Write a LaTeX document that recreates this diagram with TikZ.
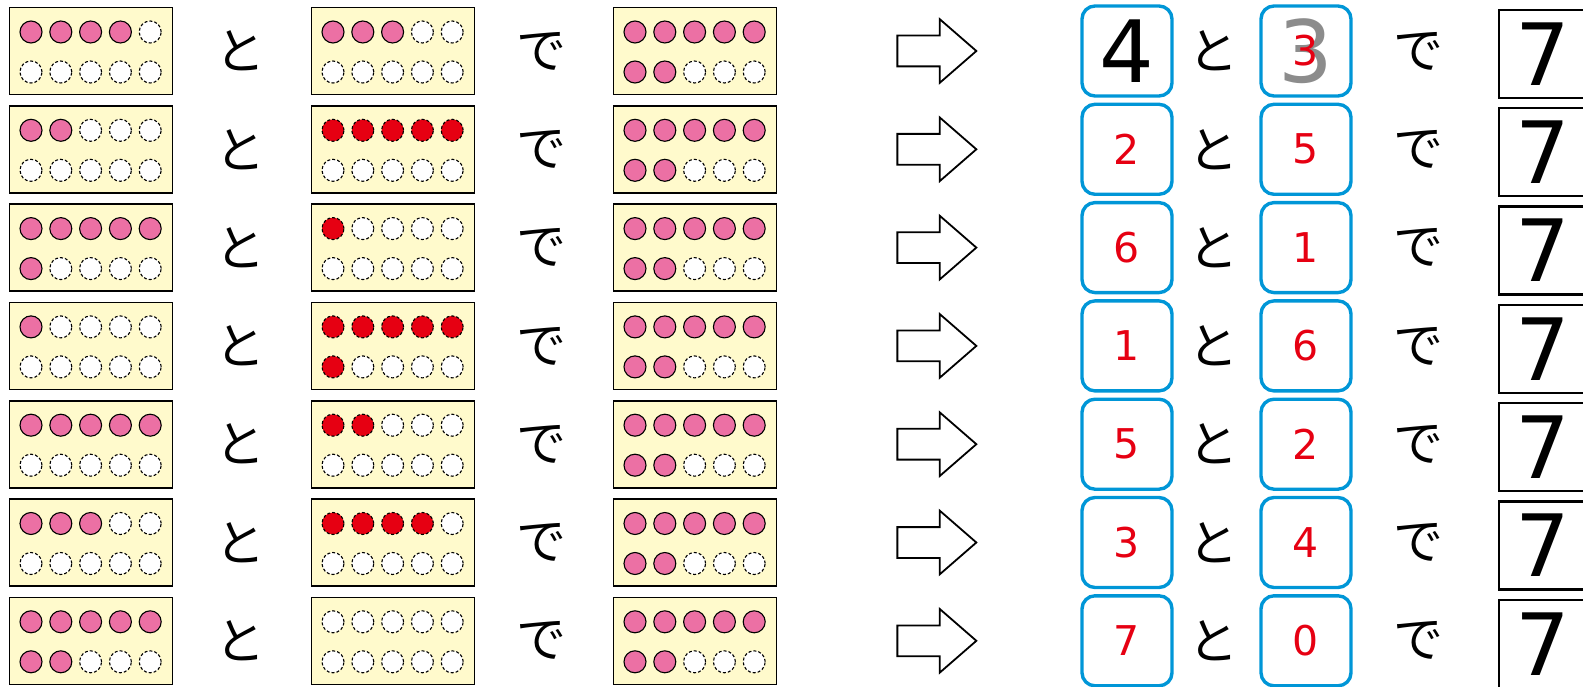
\documentclass[tikz,border=0pt]{standalone}
\usepackage{fontspec}
\newfontfamily\cjk{Noto Sans CJK JP}
\newfontfamily\digitfont{DejaVu Sans}
\usetikzlibrary{shapes.arrows}

\definecolor{frameyellow}{RGB}{255,250,204}
\definecolor{dotpink}{RGB}{236,112,164}
\definecolor{dotred}{RGB}{230,0,18}
\definecolor{boxblue}{RGB}{0,150,215}
\definecolor{ghostgray}{RGB}{140,140,140}

% ten-frame: name, x, y, how many filled, style of the filled dots
\newcommand\tenframe[5]{%
  \node[frm] (#1) at (#2,#3) {};
  \foreach \k in {1,...,10} {
    \pgfmathtruncatemacro\col{mod(\k-1,5)}
    \pgfmathtruncatemacro\rw{div(\k-1,5)}
    \ifnum\k>#4\relax \def\dotst{empty}\else \def\dotst{#5}\fi
    \node[\dotst] (#1-\k) at ({#2-60+29.8*\col},{#3-19+40*\rw}) {};
  }%
}

\begin{document}
\begin{tikzpicture}[x=1pt, y=-1pt,
  frm/.style={draw, line width=1.6pt, fill=frameyellow, minimum width=163pt, minimum height=87pt, inner sep=0pt},
  dot/.style={circle, draw, line width=1.1pt, minimum size=22pt, inner sep=0pt},
  full/.style={dot, fill=dotpink},
  empty/.style={dot, fill=white, dash pattern=on 3pt off 2pt},
  hit/.style={dot, fill=dotred, dash pattern=on 3pt off 2pt},
  hira/.style={font=\cjk\fontsize{50}{50}\selectfont, inner sep=0pt},
  bigarrow/.style={single arrow, draw, line width=1.8pt, single arrow head extend=16.5pt, single arrow tip angle=82, minimum height=79pt, inner sep=0pt},
  numbox/.style={draw=boxblue, line width=3.4pt, rounded corners=13pt, minimum width=90pt, minimum height=90pt, inner sep=0pt},
  ansbox/.style={draw, line width=2.4pt, minimum size=88pt, inner sep=0pt},
  bignum/.style={font=\digitfont\fontsize{86}{86}\selectfont, inner sep=0pt},
  rednum/.style={font=\digitfont\fontsize{41}{41}\selectfont, text=dotred, inner sep=0pt},
]
\useasboundingbox (0,0) rectangle (1583,687);

% === Rows: first frame, second frame, their sum ===
\foreach \a/\b/\bst [count=\i] in {4/3/full, 2/5/hit, 6/1/hit, 1/6/hit, 5/2/hit, 3/4/hit, 7/0/hit} {
  \pgfmathsetmacro\yc{51+98.3*(\i-1)}
  \tenframe{fa\i}{91}{\yc}{\a}{full}
  \node[hira] (to\i) at (240,\yc) {と};
  \tenframe{fb\i}{393}{\yc}{\b}{\bst}
  \node[hira] (de\i) at (541,\yc) {で};
  \tenframe{fc\i}{695}{\yc}{7}{full}

  % === Arrow and number sentence ===
  \node[bigarrow] (arr\i) at (928,\yc) {\rule{0pt}{29pt}};
  \node[numbox] (na\i) at (1127,\yc) {};
  \node[hira] (tt\i) at (1213,\yc) {と};
  \node[numbox] (nb\i) at (1306,\yc) {};
  \node[hira] (dd\i) at (1418,\yc) {で};
  \node[ansbox] (ans\i) at (1543,\yc+3) {};
  \node[bignum] (sev\i) at (ans\i) {7};
  \ifnum\i=1
    \node[bignum] (fa\i-num) at (na\i) {4};
    \node[bignum, text=ghostgray] (fb\i-ghost) at (nb\i) {3};
    \node[rednum] (fb\i-num) at (nb\i) {3};
  \else
    \node[rednum] (fa\i-num) at (na\i) {\a};
    \node[rednum] (fb\i-num) at (nb\i) {\b};
  \fi
}

\end{tikzpicture}
\end{document}
